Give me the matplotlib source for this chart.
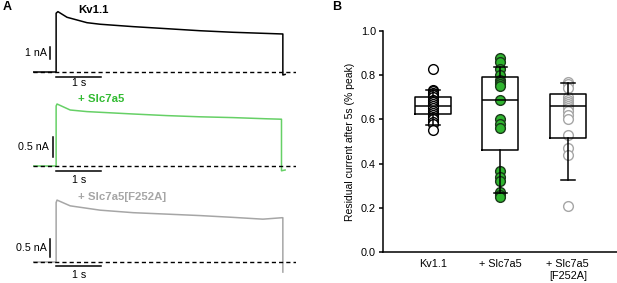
import numpy as np
import matplotlib.pyplot as plt

# --- panel A: traces (time in s, current in nA)
kv_t = [-0.51, 0.0, 0.0, 0.04, 0.24, 0.68, 0.97, 1.70, 2.44, 3.17, 3.90, 4.98, 5.0, 5.0, 5.05]
kv_i = [0.0, 0.0, 4.9, 5.03, 4.56, 4.11, 3.98, 3.78, 3.61, 3.44, 3.31, 3.17, 3.17, -0.25, -0.2]

slc_t = [-0.51, 0.0, 0.0, 0.02, 0.31, 0.68, 1.70, 2.44, 3.17, 3.90, 4.65, 4.96, 4.97, 4.97, 5.05]
slc_i = [0.0, 0.0, 1.5, 1.55, 1.40, 1.36, 1.30, 1.26, 1.23, 1.21, 1.18, 1.17, 1.17, -0.12, -0.1]

mut_t = [-0.51, 0.0, 0.0, 0.02, 0.31, 0.97, 1.70, 2.44, 3.17, 3.90, 4.56, 4.98, 5.0, 5.0]
mut_i = [0.0, 0.0, 1.65, 1.72, 1.56, 1.44, 1.37, 1.33, 1.29, 1.24, 1.19, 1.23, 1.23, -0.28]

# --- panel B: residual current after 5 s
groups = ['Kv1.1', '+ Slc7a5', '+ Slc7a5\n[F252A]']
kv_res = [0.83, 0.735, 0.73, 0.72, 0.71, 0.70, 0.69, 0.68, 0.67, 0.66, 0.65,
          0.64, 0.63, 0.62, 0.61, 0.60, 0.59, 0.58, 0.55]
slc_res = [0.88, 0.86, 0.83, 0.80, 0.78, 0.77, 0.76, 0.75, 0.69, 0.60, 0.58,
           0.56, 0.365, 0.34, 0.32, 0.27, 0.26, 0.25]
mut_res = [0.77, 0.76, 0.74, 0.70, 0.69, 0.68, 0.67, 0.66, 0.65, 0.64, 0.62,
           0.60, 0.53, 0.47, 0.44, 0.21]
box_med = [0.66, 0.688, 0.66]
box_q1 = [0.624, 0.46, 0.515]
box_q3 = [0.70, 0.79, 0.715]
box_lo = [0.575, 0.265, 0.325]
box_hi = [0.735, 0.835, 0.765]

W, H = 617, 283
fig = plt.figure(figsize=(W / 100, H / 100), dpi=100)
plt.rcParams['font.family'] = ['Liberation Sans', 'DejaVu Sans']


def px_axes(x0, y0, x1, y1):
    return fig.add_axes([x0 / W, 1 - y1 / H, (x1 - x0) / W, (y1 - y0) / H])


green_line = '#66d066'
green_txt = '#33bb33'
grey = '#a6a6a6'

traces = [
    (kv_t, kv_i, 'black', 'Kv1.1', 'black', (5, 85), (-1.083, 5.583), 1.0, '1 nA',
     (-0.13, 1.08), -0.42, -0.95, 5.17),
    (slc_t, slc_i, green_line, '+ Slc7a5', green_txt, (95, 185), (-0.475, 1.775), 0.5, '0.5 nA',
     (-0.07, 0.225), -0.125, -0.36, 1.67),
    (mut_t, mut_i, grey, '+ Slc7a5[F252A]', grey, (190, 283), (-0.583, 2.0), 0.5, '0.5 nA',
     (-0.13, 0.14), -0.11, -0.37, 1.80),
]

for t, i, col, name, tcol, (ya, yb), ylim, sbar, slab, (sx, sy), tby, tty, ny in traces:
    ax = px_axes(33, ya, 296, yb)
    ax.set_xlim(-0.51, 5.29)
    ax.set_ylim(*ylim)
    ax.axis('off')
    ax.axhline(0, color='black', lw=1.0, ls=(0, (3, 2.2)), zorder=3)
    ax.plot(t, i, color=col, lw=1.1, zorder=2)
    # scale bars
    ax.plot([sx, sx], [sy, sy + sbar], color='black', lw=1.1)
    ax.text(sx - 0.08, sy + sbar / 2, slab, ha='right', va='center', fontsize=7.7)
    ax.plot([0, 1], [tby, tby], color='black', lw=1.1)
    ax.text(0.5, tty, '1 s', ha='center', va='center', fontsize=7.7)
    ax.text(0.48, ny, name, color=tcol, fontsize=8.2, fontweight='bold',
            ha='left', va='center')

fig.text(3 / W, 1 - 7 / H, 'A', fontsize=9, fontweight='bold', va='center')
fig.text(332 / W, 1 - 7 / H, 'B', fontsize=9, fontweight='bold', va='center')

# --- panel B
axb = px_axes(383, 31, 617, 252)
axb.set_xlim(-0.74, 2.73)
axb.set_ylim(0, 1.0)
for s in ['top', 'right']:
    axb.spines[s].set_visible(False)
for s in ['left', 'bottom']:
    axb.spines[s].set_linewidth(1.1)

styles = [('white', 'black'), ('#2fb52f', '#1a3a1a'), ('white', grey)]
for k, (vals, (fc, ec)) in enumerate(zip([kv_res, slc_res, mut_res], styles)):
    axb.plot(np.full(len(vals), k), vals, 'o', ms=7, mfc=fc, mec=ec, mew=1.0,
             ls='none', zorder=2)

stats = []
for k in range(3):
    stats.append(dict(med=box_med[k], q1=box_q1[k], q3=box_q3[k],
                      whislo=box_lo[k], whishi=box_hi[k], fliers=[]))
lp = dict(color='black', lw=1.1)
axb.bxp(stats, positions=range(3), widths=0.53, showfliers=False,
        boxprops=lp, whiskerprops=lp, capprops=lp, medianprops=lp,
        capwidths=0.2, manage_ticks=False, zorder=3)

axb.set_xticks(range(3))
axb.set_xticklabels(groups, fontsize=7.8)
axb.tick_params(axis='x', length=0, pad=5)
axb.set_yticks([0, 0.2, 0.4, 0.6, 0.8, 1.0])
axb.set_yticklabels(['0.0', '0.2', '0.4', '0.6', '0.8', '1.0'], fontsize=7.8)
axb.tick_params(axis='y', length=3, width=1.1, pad=2)
axb.set_ylabel('Residual current after 5s (% peak)', fontsize=7.5, labelpad=4)

fig.savefig('out.png', dpi=100)
